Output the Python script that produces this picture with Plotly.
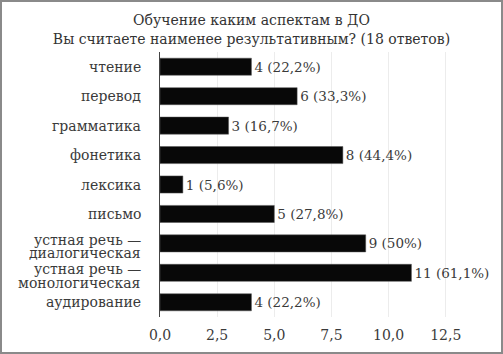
import plotly.graph_objects as go

categories = ["чтение", "перевод", "грамматика", "фонетика", "лексика", "письмо",
              "устная речь —<br>диалогическая", "устная речь —<br>монологическая", "аудирование"]
values = [4, 6, 3, 8, 1, 5, 9, 11, 4]
percents = ["22,2%", "33,3%", "16,7%", "44,4%", "5,6%", "27,8%", "50%", "61,1%", "22,2%"]
tick_vals = [0, 2.5, 5, 7.5, 10, 12.5]
tick_text = ["0,0", "2,5", "5,0", "7,5", "10,0", "12,5"]

labels = [f"{v} ({p})" for v, p in zip(values, percents)]

FONT = "DejaVu Serif"
FS = 14
W, H = 503, 354
ml, mr, mt, mb = 160, 55, 52, 37
pw, ph = W - ml - mr, H - mt - mb

fig = go.Figure(go.Bar(
    x=values, y=categories, orientation="h",
    marker=dict(color="#080808", line=dict(color="#555", width=0.5)),
    width=0.58,
    text=labels, textposition="outside", cliponaxis=False,
    textfont=dict(family=FONT, size=13.5, color="#3a3a3a"),
))

# category labels as annotations (tight line spacing as in the reference)
for cat in categories:
    lines = cat.split("<br>")
    n = len(lines)
    for i, ln in enumerate(lines):
        fig.add_annotation(x=0, xref="paper", y=cat, yref="y", text=ln,
                           xanchor="right", yanchor="middle", showarrow=False,
                           xshift=-17, yshift=((n - 1) / 2 - i) * 13.5 - (3 if n > 1 else 0),
                           font=dict(family=FONT, size=FS, color="#3a3a3a"))

fig.update_layout(
    width=W, height=H,
    margin=dict(l=ml, r=mr, t=mt, b=mb),
    paper_bgcolor="white", plot_bgcolor="white",
    showlegend=False,
    title=dict(text="Обучение каким аспектам в ДО<br>Вы считаете наименее результативным? (18 ответов)",
               x=0.5, xanchor="center", y=0.928, yanchor="top",
               font=dict(family=FONT, size=14, color="#333")),
    font=dict(family=FONT, size=FS, color="#3a3a3a"),
)
fig.update_xaxes(range=[0, 12.6], tickvals=tick_vals, ticktext=tick_text,
                 showgrid=True, gridcolor="#ececec", gridwidth=1, zeroline=False,
                 showline=False, ticks="", ticklabelstandoff=8, automargin=False,
                 tickfont=dict(family=FONT, size=FS, color="#3a3a3a"))
fig.update_yaxes(autorange="reversed", showline=True, linecolor="#444", linewidth=1,
                 ticks="", showticklabels=False, showgrid=False, automargin=False)

fig.add_shape(type="rect", xref="paper", yref="paper",
              x0=-(ml - 1) / pw, x1=1 + (mr - 1) / pw,
              y0=-(mb - 1) / ph, y1=1 + (mt - 1) / ph,
              line=dict(color="#8a8a8a", width=2), layer="above")

fig.write_html("out.html", config={"displayModeBar": False},
               post_script="document.body.style.margin='0';")
